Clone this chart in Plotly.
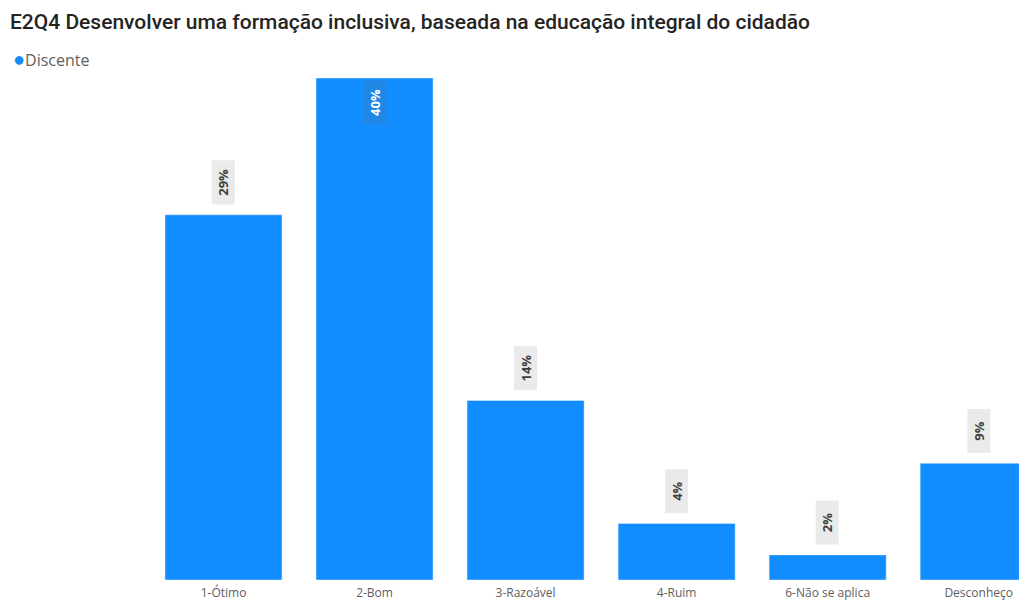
import plotly.graph_objects as go

categories = ["1-Ótimo", "2-Bom", "3-Razoável", "4-Ruim", "6-Não se aplica", "Desconheço"]
values = [29.1, 40.0, 14.3, 4.5, 2.0, 9.3]
series_name = "Discente"
title_text = "E2Q4 Desenvolver uma formação inclusiva, baseada na educação integral do cidadão"

BLUE = "#118DFF"

# page body has an 8px margin; figure sized to fill the rest of the window
W, H = 1019, 593
L, R, T, B = 140, 0, 70, 21
PW, PH = W - L - R, H - T - B

fig = go.Figure()
fig.add_trace(go.Bar(
    x=categories, y=values, marker_color=BLUE, name=series_name,
    showlegend=False, hoverinfo="skip",
))

vmax = max(values)
for c, v in zip(categories, values):
    inside = v == vmax
    fig.add_annotation(
        x=c, y=v, xref="x", yref="y",
        text=f"<b>{v:.0f}%</b>", textangle=-90, showarrow=False,
        font=dict(family="Open Sans", size=13, color="#FFFFFF" if inside else "#404040"),
        bgcolor="rgba(110,110,110,0.18)" if inside else "rgba(200,200,200,0.38)",
        width=39, height=18, align="center", borderpad=2,
        yanchor="top" if inside else "bottom",
        yshift=-2 if inside else 10,
    )

# legend (dot + series name)
fig.add_annotation(
    xref="paper", yref="paper", x=(3 - L) / PW, y=1 + 20 / PH,
    xanchor="left", yanchor="middle", showarrow=False,
    text=f"<span style='color:{BLUE};font-size:20px'>●</span>{series_name}",
    font=dict(family="Open Sans", size=16, color="#605E5C"),
)

fig.update_layout(
    width=W, height=H,
    margin=dict(l=L, r=R, t=T, b=B),
    paper_bgcolor="white", plot_bgcolor="white",
    bargap=0.225,
    showlegend=False,
    title=dict(
        text=title_text, x=2 / W, xanchor="left", y=1 - 14 / H, yanchor="middle",
        font=dict(family="Roboto", size=21, color="#252423", weight=500),
    ),
    xaxis=dict(
        range=[-0.5, 5.32], showgrid=False, showline=False, zeroline=False,
        ticks="", ticklabelstandoff=4,
        tickfont=dict(family="Open Sans", size=12, color="#605E5C"),
    ),
    yaxis=dict(range=[0, vmax], visible=False, showgrid=False),
)

fig.write_html("out.html")
